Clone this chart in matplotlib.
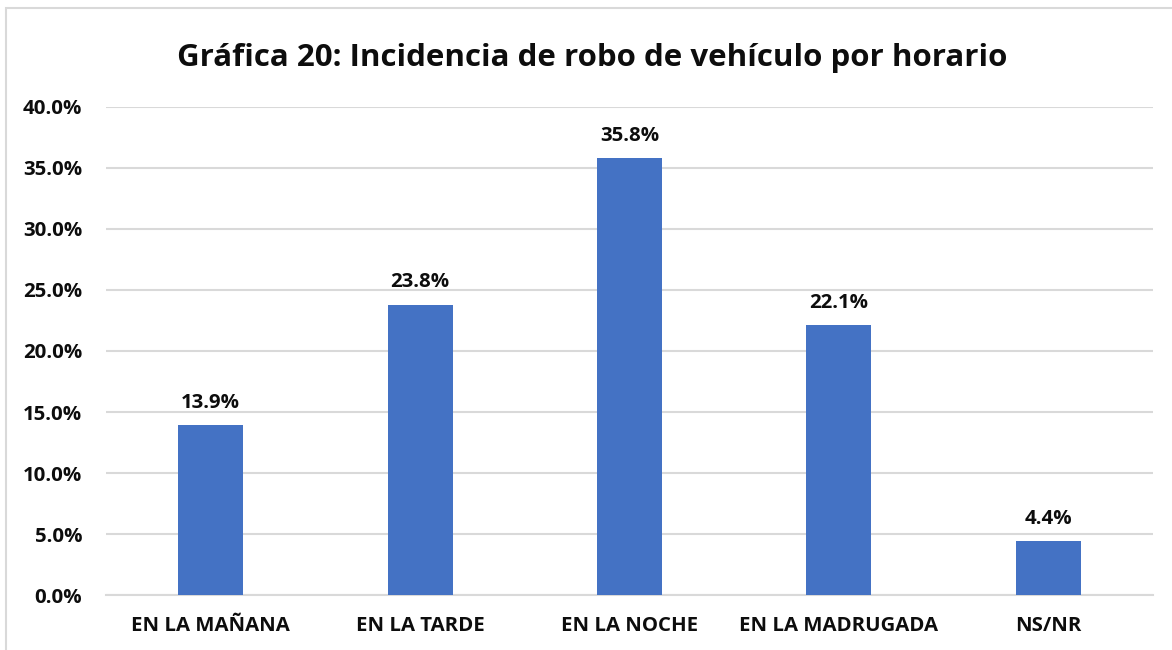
import matplotlib.pyplot as plt
from matplotlib.patches import Rectangle
from matplotlib.ticker import FuncFormatter

categorias = ['EN LA MAÑANA', 'EN LA TARDE', 'EN LA NOCHE', 'EN LA MADRUGADA', 'NS/NR']
valores = [13.9, 23.8, 35.8, 22.1, 4.4]
titulo = 'Gráfica 20: Incidencia de robo de vehículo por horario'

plt.rcParams['font.family'] = ['Open Sans', 'DejaVu Sans']

fig = plt.figure(figsize=(11.72, 6.5), dpi=100)
ax = fig.add_axes([0.0904, 0.0846, 0.8934, 0.7508])

# chart border
fig.patches.append(Rectangle((6 / 1172, -0.1), 1.2, 1 - 8 / 650 + 0.1, transform=fig.transFigure,
                             fill=False, edgecolor='#D9D9D9', lw=1.5))

x = range(len(categorias))
bars = ax.bar(x, valores, width=0.31, color='#4472C4', zorder=3)
for b, v in zip(bars, valores):
    ax.text(b.get_x() + b.get_width() / 2, v + 1.0, f'{v:.1f}%', ha='center', va='bottom',
            fontsize=14.7, fontweight='bold', color='#0d0d0d')

ax.set_xlim(-0.5, len(categorias) - 0.5)
ax.set_ylim(0, 40)
ax.set_yticks([0, 5, 10, 15, 20, 25, 30, 35, 40])
ax.yaxis.set_major_formatter(FuncFormatter(lambda v, p: f'{v:.1f}%'))
ax.set_xticks(list(x))
ax.set_xticklabels(categorias)
ax.grid(axis='y', color='#D9D9D9', lw=1.5, zorder=0)
for s in ['top', 'right', 'left']:
    ax.spines[s].set_visible(False)
ax.spines['bottom'].set_color('#D9D9D9')
ax.spines['bottom'].set_linewidth(1.5)
ax.tick_params(length=0, labelsize=14.7)
for lab in ax.get_xticklabels() + ax.get_yticklabels():
    lab.set_fontweight('bold')
    lab.set_color('#0d0d0d')
ax.tick_params(axis='x', pad=15)
ax.tick_params(axis='y', pad=17)

fig.text(0.505, 0.911, titulo, ha='center', va='center', fontsize=22.5, fontweight='bold', color='#0d0d0d')

fig.savefig('out.png', dpi=100)
